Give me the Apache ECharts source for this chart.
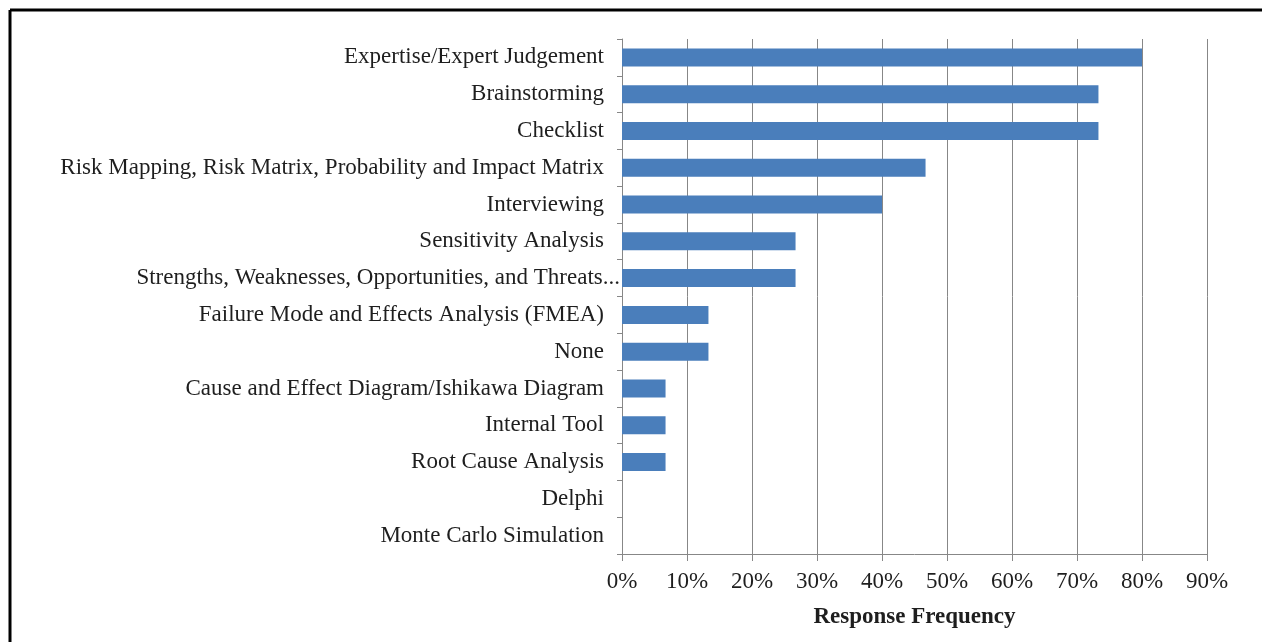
<!DOCTYPE html>
<html>
<head>
<meta charset="utf-8">
<script src="https://cdn.jsdelivr.net/npm/echarts@6/dist/echarts.min.js"></script>
<style>
  html, body { margin: 0; padding: 0; background: #fff; }
  #chart { width: 1262px; height: 642px; }
</style>
</head>
<body>
<div id="chart"></div>
<script>
// Risk identification techniques and their response frequency (%)
const categories = [
  'Expertise/Expert Judgement',
  'Brainstorming',
  'Checklist',
  'Risk Mapping, Risk Matrix, Probability and Impact Matrix',
  'Interviewing',
  'Sensitivity Analysis',
  'Strengths, Weaknesses, Opportunities, and Threats...',
  'Failure Mode and Effects Analysis (FMEA)',
  'None',
  'Cause and Effect Diagram/Ishikawa Diagram',
  'Internal Tool',
  'Root Cause Analysis',
  'Delphi',
  'Monte Carlo Simulation'
];
const frequency = [80, 73.3, 73.3, 46.7, 40, 26.7, 26.7, 13.3, 13.3, 6.7, 6.7, 6.7, 0, 0];
const axisMax = 90;
const axisStep = 10;
const axisTitle = 'Response Frequency';

const serif = '"Liberation Serif", "DejaVu Serif", serif';
const textColor = '#1e1e1e';
const gridColor = '#878787';
const fontSize = 23;

const chart = echarts.init(document.getElementById('chart'));
chart.setOption({
  backgroundColor: '#ffffff',
  animation: false,
  grid: { left: 622, right: 55, top: 39, bottom: 88, containLabel: false },
  graphic: [
    { type: 'line', shape: { x1: 10, y1: 10, x2: 1262, y2: 10 }, style: { stroke: '#000', lineWidth: 3 } },
    { type: 'line', shape: { x1: 10, y1: 10, x2: 10, y2: 642 }, style: { stroke: '#000', lineWidth: 3 } }
  ],
  xAxis: {
    type: 'value',
    min: 0,
    max: axisMax,
    interval: axisStep,
    name: axisTitle,
    nameLocation: 'middle',
    nameGap: 52,
    nameTextStyle: { fontFamily: serif, fontSize: fontSize, fontWeight: 'bold', color: textColor },
    axisLine: { show: true, lineStyle: { color: gridColor, width: 1 } },
    axisTick: { show: true, length: 7, lineStyle: { color: gridColor } },
    axisLabel: { formatter: '{value}%', fontFamily: serif, fontSize: fontSize, color: textColor, margin: 16 },
    splitLine: { show: true, lineStyle: { color: gridColor, width: 1 } }
  },
  yAxis: {
    type: 'category',
    data: categories,
    inverse: true,
    axisLine: { show: true, lineStyle: { color: gridColor, width: 1 } },
    axisTick: { show: true, length: 5, alignWithLabel: false, lineStyle: { color: gridColor } },
    axisLabel: {
      margin: 2,
      formatter: function (v) {
        return v.endsWith('...') ? '{s|' + v + '}' : '{n|' + v + '}';
      },
      rich: {
        n: { fontFamily: serif, fontSize: fontSize, color: textColor, padding: [0, 16, 0, 0] },
        s: { fontFamily: serif, fontSize: fontSize, color: textColor, padding: [0, 0, 0, 0] }
      }
    },
    splitLine: { show: false }
  },
  series: [{
    type: 'bar',
    data: frequency,
    barWidth: 18,
    itemStyle: { color: '#4A7EBB' }
  }]
});
</script>
</body>
</html>
